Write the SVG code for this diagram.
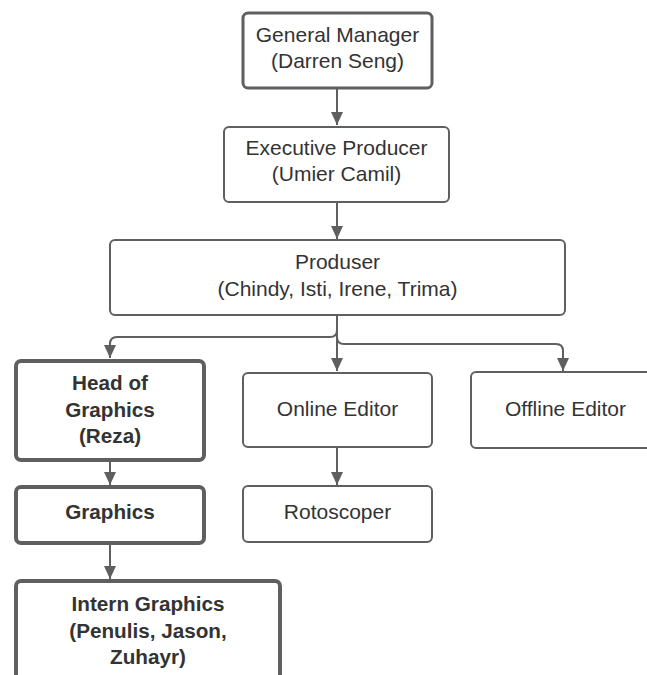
<svg xmlns="http://www.w3.org/2000/svg" width="647" height="675" viewBox="0 0 647 675">
<style>
.box{fill:#fff;stroke:#5f5f5f;stroke-width:2}
.bold{stroke-width:4}
.mid{stroke-width:3}
.t{font-family:"Liberation Sans",Arial,sans-serif;font-size:21px;fill:#333;text-anchor:middle}
.b{font-weight:bold;font-size:20.7px}
.c{fill:none;stroke:#5f5f5f;stroke-width:2}
</style>
<defs>
<marker id="ah" markerUnits="userSpaceOnUse" markerWidth="12" markerHeight="14" refX="13" refY="6" orient="auto">
<path d="M0,0 L13,6 L0,12 z" fill="#5f5f5f"/>
</marker>
</defs>
<g id="connectors">
<path class="c" d="M337,89 V125" marker-end="url(#ah)"/>
<path class="c" d="M337,203 V239" marker-end="url(#ah)"/>
<path class="c" d="M337,316 V330 Q337,337 330,337 H117 Q110,337 110,344 V358" marker-end="url(#ah)"/>
<path class="c" d="M337,316 V371" marker-end="url(#ah)"/>
<path class="c" d="M337,330 V337 Q337,344 344,344 H556 Q563,344 563,351 V371" marker-end="url(#ah)"/>
<path class="c" d="M110,462 V485" marker-end="url(#ah)"/>
<path class="c" d="M337,448 V485" marker-end="url(#ah)"/>
<path class="c" d="M110,545 V579" marker-end="url(#ah)"/>
</g>
<g id="gm">
<rect class="box mid" x="243" y="13" width="189" height="75" rx="5"/>
<text class="t" x="337.5" y="42">General Manager</text>
<text class="t" x="337.5" y="68">(Darren Seng)</text>
</g>
<g id="exec">
<rect class="box" x="224" y="127" width="225" height="75" rx="5"/>
<text class="t" x="336.5" y="155">Executive Producer</text>
<text class="t" x="336.5" y="181">(Umier Camil)</text>
</g>
<g id="produser">
<rect class="box" x="110" y="240" width="455" height="75" rx="5"/>
<text class="t" x="337.5" y="269">Produser</text>
<text class="t" x="337.5" y="296">(Chindy, Isti, Irene, Trima)</text>
</g>
<g id="head">
<rect class="box bold" x="16" y="361" width="188" height="99" rx="5"/>
<text class="t b" x="110" y="390">Head of</text>
<text class="t b" x="110" y="417">Graphics</text>
<text class="t b" x="110" y="443">(Reza)</text>
</g>
<g id="online">
<rect class="box" x="243" y="373" width="189" height="74" rx="5"/>
<text class="t" x="337.5" y="416">Online Editor</text>
</g>
<g id="offline">
<rect class="box" x="471" y="372" width="189" height="76" rx="5"/>
<text class="t" x="565.5" y="416">Offline Editor</text>
</g>
<g id="graphics">
<rect class="box bold" x="16" y="487" width="188" height="56" rx="5"/>
<text class="t b" x="110" y="519">Graphics</text>
</g>
<g id="roto">
<rect class="box" x="243" y="486" width="189" height="56" rx="5"/>
<text class="t" x="337.5" y="519">Rotoscoper</text>
</g>
<g id="intern">
<rect class="box bold" x="16" y="581" width="264" height="110" rx="5"/>
<text class="t b" x="148" y="611">Intern Graphics</text>
<text class="t b" x="148" y="638">(Penulis, Jason,</text>
<text class="t b" x="148" y="664">Zuhayr)</text>
</g>
</svg>
